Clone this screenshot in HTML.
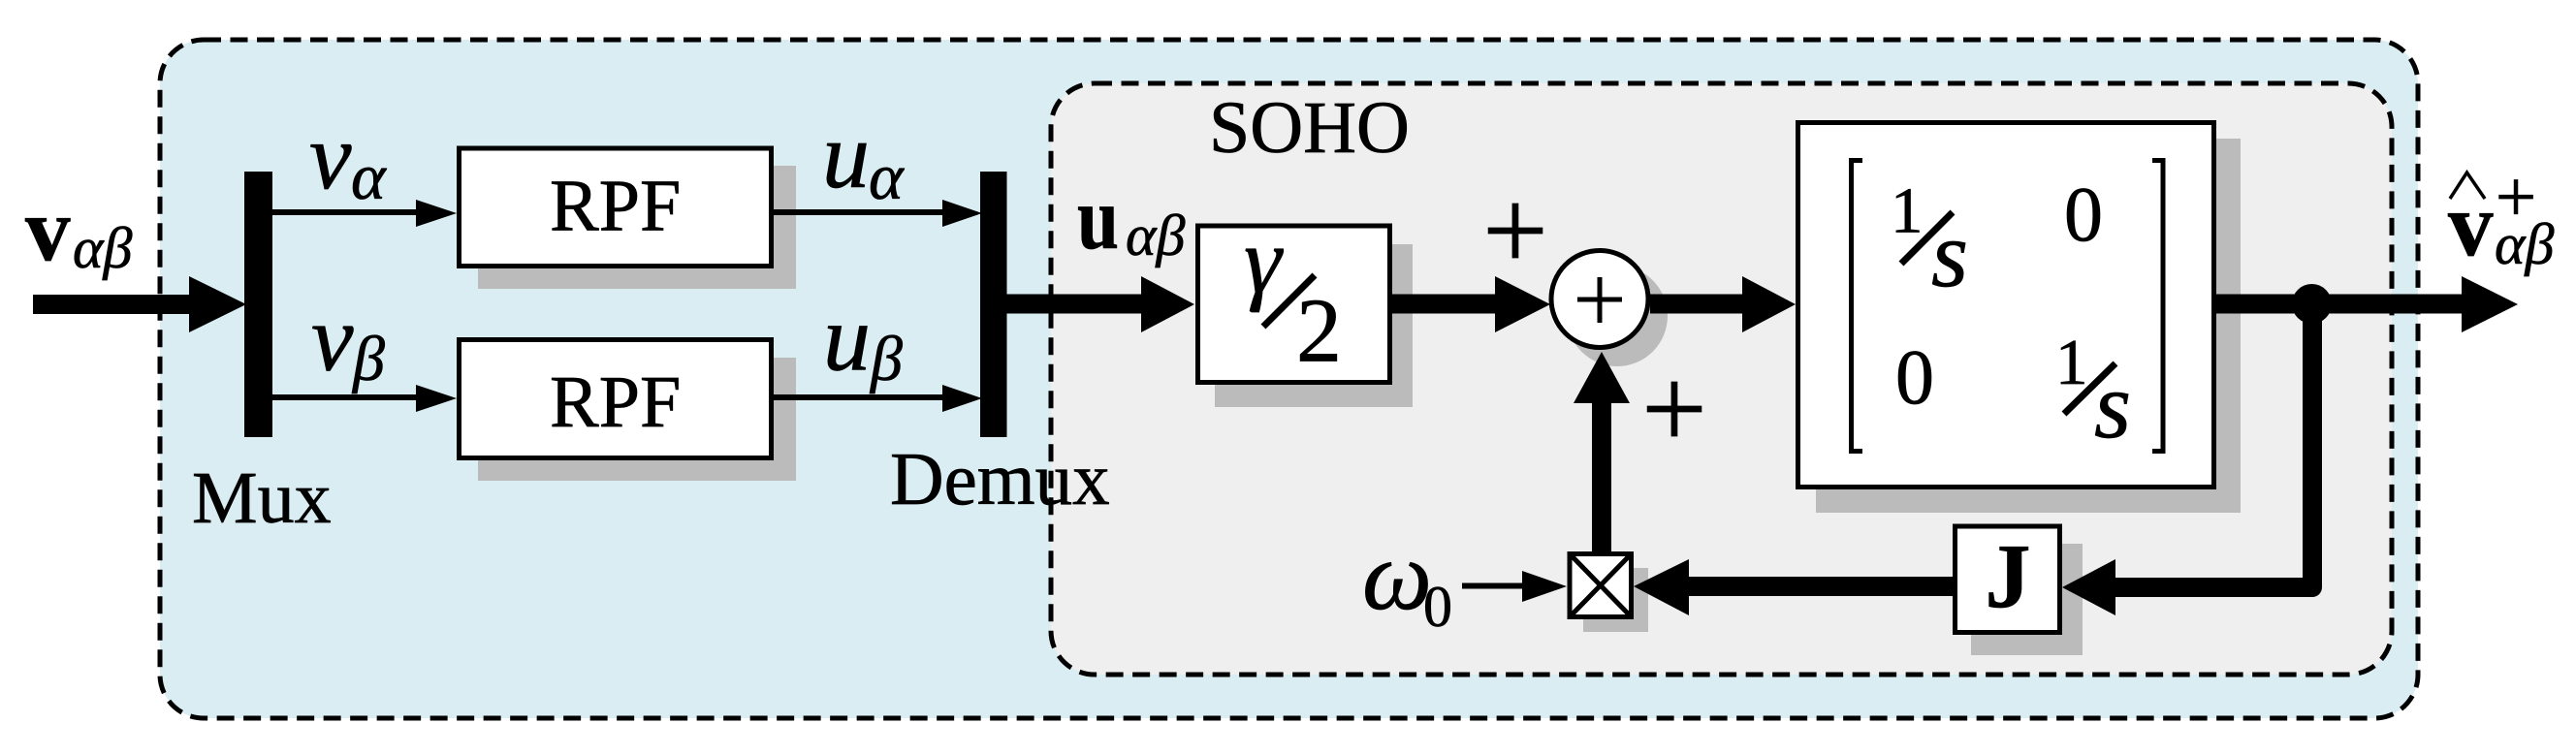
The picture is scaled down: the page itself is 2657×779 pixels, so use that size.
<!DOCTYPE html>
<html><head><meta charset="utf-8"><style>
html,body{margin:0;padding:0;background:#fff;width:2657px;height:779px;overflow:hidden}
svg{display:block}
text{font-family:"Liberation Serif","DejaVu Serif",serif;fill:#000;stroke:#000;stroke-width:.7px}
.i{font-style:italic}.b{font-weight:bold}
</style></head><body>
<svg width="2657" height="779" viewBox="0 0 2657 779" xmlns="http://www.w3.org/2000/svg">
<rect width="2657" height="779" fill="#fff"/>
<rect x="165" y="41" width="2329" height="700" rx="45" fill="#d9edf2"/>
<rect x="1084" y="86" width="1383" height="610" rx="45" fill="#efefef"/>
<!-- shadows -->
<g fill="#bbb">
<rect x="493" y="171" width="328" height="127"/>
<rect x="493" y="369" width="328" height="127"/>
<rect x="1253" y="252" width="204" height="168"/>
<circle cx="1668" cy="326" r="52"/>
<rect x="1873" y="143" width="438" height="386"/>
<rect x="2033" y="561" width="115" height="115"/>
<rect x="1633" y="586" width="67" height="66"/>
</g>
<!-- thick connectors -->
<g stroke="#000" fill="none">
<path d="M34 314H200" stroke-width="20"/>
<path d="M1038 313.5H1182" stroke-width="20"/>
<path d="M1436 313.5H1547" stroke-width="20"/>
<path d="M1702 313.5H1802" stroke-width="20"/>
<path d="M2286 313.5H2544" stroke-width="20"/>
<path d="M2385 313V606H2177" stroke-width="20" stroke-linejoin="round"/>
<path d="M2014 605H1737" stroke-width="20"/>
<path d="M1652 569V411" stroke-width="20"/>
<path d="M281 219H434M798 219H977M281 410H434M798 410H977M1508 604.5H1575" stroke-width="6"/>
</g>
<g fill="#000">
<path d="M195 285V343L254 314Z"/>
<path d="M1177 285V343L1232 314Z"/>
<path d="M1542 285V343L1599 314Z"/>
<path d="M1797 285V343L1852 314Z"/>
<path d="M2539 285V343L2597 314Z"/>
<path d="M2182 577V635L2127 606Z"/>
<path d="M1742 577V635L1685 605Z"/>
<path d="M1623 416H1681L1652 363Z"/>
<path d="M429 206V234L471 220Z"/>
<path d="M429 397V425L471 411Z"/>
<path d="M972 206V234L1013 220Z"/>
<path d="M972 397V425L1013 411Z"/>
<path d="M1570 589V621L1616 605Z"/>
<rect x="252" y="177" width="29" height="274"/>
<rect x="1011" y="177" width="27.5" height="274"/>
<circle cx="2384.5" cy="313.5" r="20.5"/>
</g>
<!-- boxes -->
<g fill="#fff" stroke="#000" stroke-width="5">
<rect x="473.5" y="153" width="322" height="121.5"/>
<rect x="473.5" y="350.5" width="322" height="122"/>
<rect x="1235.5" y="233" width="198" height="161.5"/>
<ellipse cx="1650" cy="308.5" rx="50" ry="50"/>
<rect x="1854.5" y="126.5" width="429" height="376"/>
<rect x="2016.5" y="543" width="108" height="109.5"/>
<rect x="1619" y="571.5" width="63.5" height="65"/>
</g>
<g stroke="#000" fill="none" stroke-width="5">
<path d="M1650 286V333"/>
<path d="M1627 309H1673"/>
<path d="M1619 571.5L1682.5 636.5M1682.5 571.5L1619 636.5"/>
<path d="M1921 165.5H1909.5V465.5H1921"/>
<path d="M2220 165.5H2231V465.5H2220"/>
<path d="M1356 284L1303 337" stroke-width="7"/>
<path d="M2014 219L1961 272" stroke-width="7"/>
<path d="M2182 375L2129 427" stroke-width="7"/>
<path d="M2527 205L2544.5 178L2563 205" stroke-width="3.5"/>
</g>
<!-- labels -->
<text x="567" y="237.5" font-size="76">RPF</text>
<text x="567" y="440" font-size="76">RPF</text>
<text x="198" y="539" font-size="76">Mux</text>
<text x="918" y="520" font-size="77">Demux</text>
<text x="1247" y="157" font-size="76">SOHO</text>
<text x="26" y="268" font-size="93" class="b">v</text>
<text x="75" y="276" font-size="60" class="i">αβ</text>
<text x="319" y="194" font-size="98" class="i">v</text>
<text x="362" y="205" font-size="68" class="i">α</text>
<text x="321" y="381.5" font-size="98" class="i">v</text>
<text x="364" y="392" font-size="66" class="i">β</text>
<text x="848" y="193" font-size="98" class="i">u</text>
<text x="896" y="205" font-size="68" class="i">α</text>
<text x="849" y="381.5" font-size="98" class="i">u</text>
<text x="898" y="392" font-size="66" class="i">β</text>
<text x="1111" y="256" font-size="92" class="b" textLength="43" lengthAdjust="spacingAndGlyphs">u</text>
<text x="1161" y="263" font-size="60" class="i">αβ</text>
<text x="1283" y="301" font-size="98" class="i">γ</text>
<text x="1337" y="372.5" font-size="94">2</text>
<text x="1563" y="278" font-size="120" text-anchor="middle">+</text>
<text x="1727" y="462" font-size="120" text-anchor="middle">+</text>
<text x="1950" y="239.5" font-size="67">1</text>
<text x="1992" y="295" font-size="98" class="i">s</text>
<text x="2149" y="248" font-size="80" text-anchor="middle">0</text>
<text x="1975" y="416" font-size="80" text-anchor="middle">0</text>
<text x="2120" y="396" font-size="67">1</text>
<text x="2160" y="451" font-size="98" class="i">s</text>
<text x="2071" y="626" font-size="94" class="b" text-anchor="middle">J</text>
<text x="1405" y="628" font-size="102" class="i">ω</text>
<text x="1468" y="646" font-size="60">0</text>
<text x="2525" y="263" font-size="93" class="b">v</text>
<text x="2573" y="272" font-size="60" class="i">αβ</text>
<text x="2595" y="228" font-size="75" text-anchor="middle">+</text>
<!-- dashed frames -->
<g fill="none" stroke="#000" stroke-width="5" stroke-dasharray="18 9.5">
<rect x="165" y="41" width="2329" height="700" rx="45"/>
<rect x="1084" y="86" width="1383" height="610" rx="45"/>
</g>
</svg>
</body></html>
